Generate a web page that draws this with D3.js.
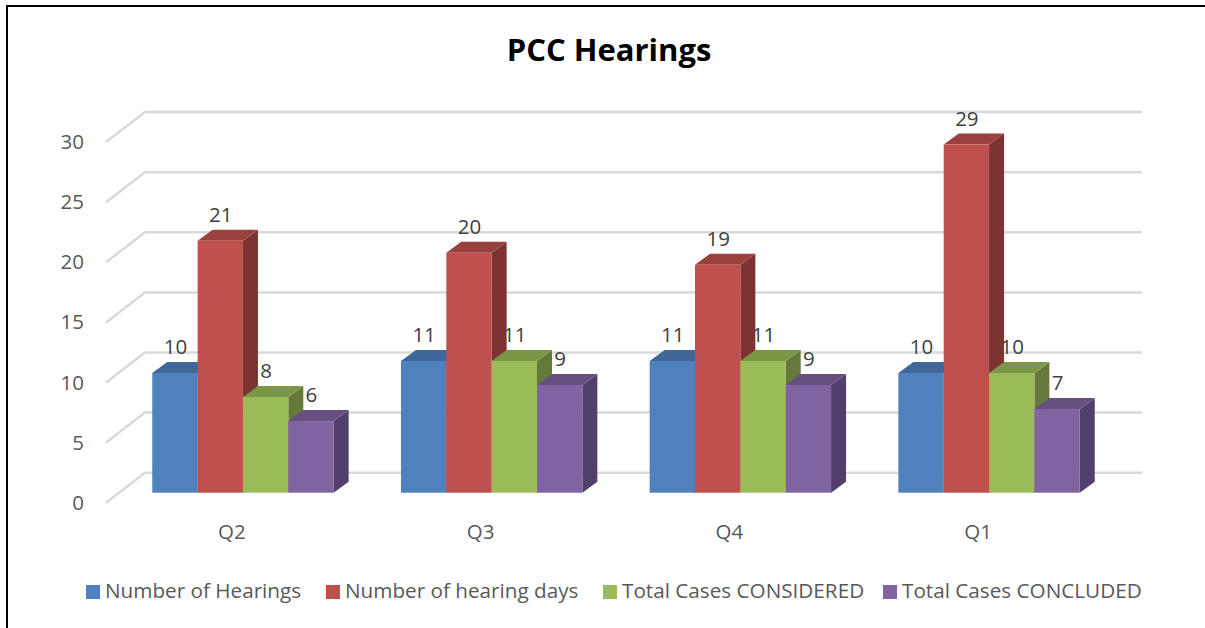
<!DOCTYPE html>
<html lang="en">
<head>
    <meta charset="UTF-8">
    <title>PCC Hearings</title>
    <script src="https://d3js.org/d3.v7.min.js"></script>
    <style>
        body {
            margin: 0;
            padding: 0;
            background: #fff;
        }
        svg {
            display: block;
            font-family: "Open Sans", sans-serif;
        }
        .axis path,
        .axis line {
            display: none;
        }
        .axis text {
            font-family: "Open Sans", sans-serif;
            font-size: 20.5px;
            fill: #595959;
        }
        .grid {
            fill: none;
            stroke: #d9d9d9;
            stroke-width: 2.5px;
        }
        .label {
            font-size: 20.5px;
            fill: #404040;
            text-anchor: middle;
        }
        .legend-text {
            font-size: 20.7px;
            fill: #595959;
        }
    </style>
</head>
<body>
    <svg width="1205" height="628"></svg>

    <script>
        const quarters = ["Q2", "Q3", "Q4", "Q1"];
        const seriesNames = ["Number of Hearings", "Number of hearing days", "Total Cases CONSIDERED", "Total Cases CONCLUDED"];
        const hearings = [10, 11, 11, 10];
        const hearingDays = [21, 20, 19, 29];
        const casesConsidered = [8, 11, 11, 10];
        const casesConcluded = [6, 9, 9, 7];
        const yTicks = [0, 5, 10, 15, 20, 25, 30];

        const frontColors = ["#4f81bd", "#c0504d", "#9bbb59", "#8064a2"];
        const topColors = ["#3f6797", "#9a403e", "#7c9647", "#665082"];
        const sideColors = ["#355a85", "#7c3331", "#64793a", "#533f6b"];

        const allSeries = [hearings, hearingDays, casesConsidered, casesConcluded];

        const svg = d3.select("svg");

        // frame of the pasted picture
        svg.append("path")
            .attr("d", "M7,628V6H1205")
            .attr("fill", "none")
            .attr("stroke", "#000")
            .attr("stroke-width", 2);

        svg.append("text")
            .attr("x", 609)
            .attr("y", 61)
            .attr("text-anchor", "middle")
            .attr("font-size", 31)
            .attr("font-weight", 700)
            .attr("fill", "#000")
            .text("PCC Hearings");

        // y is the front edge of the floor, everything else is offset from it
        const y = d3.scaleLinear().domain([0, 30]).range([502.7, 142.1]);
        const x0 = d3.scaleBand().domain(quarters).range([118.6, 1113.4]);
        const x1 = d3.scaleBand().domain(d3.range(4)).range([0, 181.4]);
        const barLeft = d => x0(d) + (x0.bandwidth() - 181.4) / 2;

        const floorGap = 9.5;     // bars stand this far behind the floor edge
        const depthX = 15, depthY = 11;
        const gridDx = 39, gridDy = 30;
        const gridLeft = 106, gridRight = 1142;

        // gridlines: slanted bit on the left wall, then along the back
        svg.selectAll(".grid")
            .data(yTicks)
            .enter()
            .append("path")
            .attr("class", "grid")
            .attr("d", d => `M${gridLeft},${y(d)}L${gridLeft + gridDx},${y(d) - gridDy}H${gridRight}`);

        svg.append("g")
            .attr("class", "axis")
            .attr("transform", "translate(92,0)")
            .call(d3.axisLeft(y).tickValues(yTicks).tickSize(0).tickPadding(8))
            .call(g => g.selectAll("text").attr("dy", "0.32em"));

        svg.append("g")
            .attr("class", "axis")
            .attr("transform", "translate(-11,524)")
            .call(d3.axisBottom(x0).tickSize(0).tickPadding(0))
            .call(g => g.selectAll("text").attr("dy", "0.71em"));

        // bars, left to right so each one covers the side of the previous
        quarters.forEach((q, qi) => {
            allSeries.forEach((values, si) => {
                const left = barLeft(q) + x1(si);
                const right = left + x1.bandwidth();
                const top = y(values[qi]) - floorGap;
                const bottom = y(0) - 10;
                const g = svg.append("g");

                g.append("path")
                    .attr("fill", sideColors[si])
                    .attr("d", `M${right},${top}L${right + depthX},${top - depthY}V${bottom - depthY}L${right},${bottom}Z`);
                g.append("path")
                    .attr("fill", topColors[si])
                    .attr("d", `M${left},${top}L${left + depthX},${top - depthY}H${right + depthX}L${right},${top}Z`);
                g.append("rect")
                    .attr("fill", frontColors[si])
                    .attr("x", left)
                    .attr("y", top)
                    .attr("width", x1.bandwidth())
                    .attr("height", bottom - top);
            });
        });

        // value labels go last, they sit on top of neighbouring bars
        quarters.forEach((q, qi) => {
            allSeries.forEach((values, si) => {
                svg.append("text")
                    .attr("class", "label")
                    .attr("x", barLeft(q) + x1(si) + x1.bandwidth() / 2 + 0.5)
                    .attr("y", y(values[qi]) - floorGap - 19)
                    .text(values[qi]);
            });
        });

        const legendSquare = [86, 326, 603, 883];
        const legend = svg.selectAll(".legend")
            .data(seriesNames)
            .enter()
            .append("g")
            .attr("class", "legend")
            .attr("transform", (d, i) => `translate(${legendSquare[i]},585)`);

        legend.append("rect")
            .attr("width", 14)
            .attr("height", 14)
            .attr("fill", (d, i) => frontColors[i]);

        legend.append("text")
            .attr("class", "legend-text")
            .attr("x", 19)
            .attr("y", 13)
            .text(d => d);
    </script>
</body>
</html>
